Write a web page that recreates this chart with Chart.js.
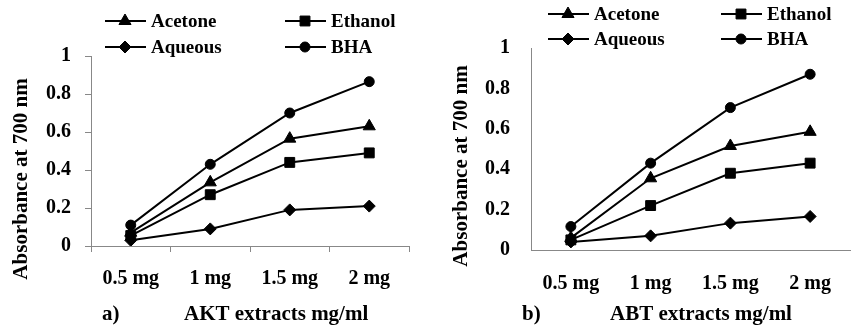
<!DOCTYPE html>
<html>
<head>
<script src="https://cdn.jsdelivr.net/npm/chart.js@4.4.0/dist/chart.umd.min.js"></script>
<style>
  body { margin: 0; background: #fff; }
  #wrap { position: relative; width: 858px; height: 330px; }
  #akt { position: absolute; left: 0; top: 0; }
  #abt { position: absolute; left: 430px; top: 0; }
</style>
</head>
<body>
<div id="wrap">
  <canvas id="akt" width="430" height="330" style="width:430px;height:330px"></canvas>
  <canvas id="abt" width="428" height="330" style="width:428px;height:330px"></canvas>
</div>

<script>
// doses on the x axis
var doses = ['0.5 mg', '1 mg', '1.5 mg', '2 mg'];
var seriesNames = ['Acetone', 'Ethanol', 'Aqueous', 'BHA'];

// panel a) AKT extracts
var aktAcetone = [0.07, 0.335, 0.565, 0.63];
var aktEthanol = [0.055, 0.27, 0.44, 0.49];
var aktAqueous = [0.03, 0.09, 0.19, 0.21];
var aktBha     = [0.11, 0.43, 0.70, 0.865];

// panel b) ABT extracts
var abtAcetone = [0.06, 0.355, 0.515, 0.585];
var abtEthanol = [0.05, 0.22, 0.38, 0.43];
var abtAqueous = [0.04, 0.07, 0.133, 0.166];
var abtBha     = [0.116, 0.43, 0.705, 0.87];

var markers = ['triangle', 'rect', 'rectRot', 'circle'];
var markerSize = [7, 7, 6, 5];
var serif = '"Liberation Serif", "Times New Roman", serif';

// legend + axis titles, drawn on top of the chart
var textPlugin = {
  id: 'textPlugin',
  afterDraw: function(chart, args, o) {
    var ctx = chart.ctx;
    ctx.save();
    ctx.fillStyle = '#000';
    ctx.strokeStyle = '#000';
    chart.data.datasets.forEach(function(ds, i) {
      var p = o.legend[i];
      ctx.lineWidth = 2;
      ctx.beginPath();
      ctx.moveTo(p[0], p[1]);
      ctx.lineTo(p[0] + 41, p[1]);
      ctx.stroke();
      ctx.lineWidth = 1;
      Chart.helpers.drawPoint(ctx, {pointStyle: ds.pointStyle, radius: ds.pointRadius, rotation: 0, borderWidth: 1}, p[0] + 20, p[1]);
      ctx.font = 'bold 19px ' + serif;
      ctx.textBaseline = 'middle';
      ctx.textAlign = 'left';
      ctx.fillText(ds.label, p[0] + 46, p[1] + 1);
    });

    ctx.font = 'bold 21px ' + serif;
    ctx.textBaseline = 'middle';
    ctx.fillText(o.tag, o.tagX, o.xTitleY);
    ctx.fillText(o.xTitle, o.xTitleX, o.xTitleY);

    ctx.translate(o.yTitleX, o.yTitleY);
    ctx.rotate(-Math.PI / 2);
    ctx.textAlign = 'center';
    ctx.fillText('Absorbance at 700 nm', 0, 0);
    ctx.restore();
  }
};

function makePanel(id, values, lay) {
  var datasets = values.map(function(v, i) {
    return {
      label: seriesNames[i],
      data: v,
      borderColor: '#000',
      borderWidth: 2,
      backgroundColor: '#000',
      pointBackgroundColor: '#000',
      pointBorderColor: '#000',
      pointBorderWidth: 1,
      pointStyle: markers[i],
      pointRadius: markerSize[i],
      tension: 0
    };
  });

  return new Chart(document.getElementById(id), {
    type: 'line',
    data: { labels: doses, datasets: datasets },
    plugins: [textPlugin],
    options: {
      responsive: false,
      animation: false,
      layout: { padding: { top: lay.top, right: lay.right, bottom: 0, left: 0 } },
      plugins: {
        legend: { display: false },
        tooltip: { enabled: false },
        textPlugin: lay.text
      },
      scales: {
        x: {
          offset: true,
          grid: {
            offset: true,
            drawOnChartArea: false,
            drawTicks: lay.xTicks,
            tickLength: 6,
            color: '#888'
          },
          border: { color: '#888', width: 1 },
          ticks: {
            color: '#000',
            padding: lay.xPad,
            font: { family: serif, size: 20, weight: 'bold' }
          },
          afterFit: function(s) { s.height = lay.xH; }
        },
        y: {
          min: 0,
          max: 1,
          grid: {
            drawOnChartArea: false,
            drawTicks: lay.yTicks,
            tickLength: 6,
            color: '#888'
          },
          border: { color: '#888', width: 1 },
          ticks: {
            stepSize: 0.2,
            color: '#000',
            padding: lay.yPad,
            font: { family: serif, size: 20, weight: 'bold' },
            callback: function(v) { return String(Math.round(v * 10) / 10); }
          },
          afterFit: function(s) { s.width = lay.yW; }
        }
      }
    }
  });
}

makePanel('akt', [aktAcetone, aktEthanol, aktAqueous, aktBha], {
  top: 56, right: 21, xH: 84, yW: 91, xTicks: true, yTicks: true, xPad: 15, yPad: 14,
  text: {
    legend: [[105, 21], [285, 21], [105, 47], [285, 47]],
    tag: 'a)', tagX: 102, xTitle: 'AKT extracts mg/ml', xTitleX: 184, xTitleY: 315,
    yTitleX: 22, yTitleY: 179
  }
});

makePanel('abt', [abtAcetone, abtEthanol, abtAqueous, abtBha], {
  top: 48, right: 8, xH: 80, yW: 101, xTicks: false, yTicks: false, xPad: 22, yPad: 21,
  text: {
    legend: [[118, 14], [291, 14], [118, 39], [291, 39]],
    tag: 'b)', tagX: 92, xTitle: 'ABT extracts mg/ml', xTitleX: 180, xTitleY: 315,
    yTitleX: 32, yTitleY: 166
  }
});
</script>
</body>
</html>
